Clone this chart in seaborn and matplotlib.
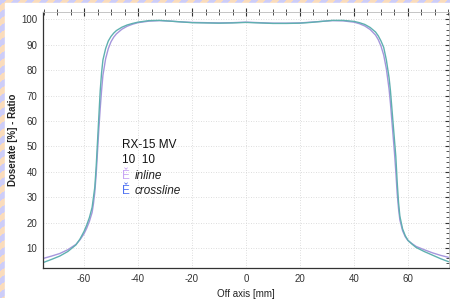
import numpy as np
import pandas as pd
import matplotlib
matplotlib.use("Agg")
import matplotlib.pyplot as plt
import seaborn as sns
from matplotlib.ticker import MultipleLocator

# Off-axis positions [mm]
x_mm = [-75, -72, -69, -66, -63, -61.5, -60, -59, -58, -57, -56.5, -56, -55.5,
        -55, -54.5, -54, -53.5, -53, -52, -51, -50, -49, -48, -46, -44, -42,
        -40, -36, -32, -28, -24, -20, -15, -10, -5, 0, 5, 10, 15, 20, 24, 28,
        32, 36, 40, 42, 44, 46, 48, 49, 50, 51, 52, 53, 53.5, 54, 54.5, 55,
        55.5, 56, 56.5, 57, 58, 59, 60, 61.5, 63, 66, 69, 72, 75]

# Crossline profile (teal)
crossline = [4.3, 5.5, 6.8, 8.6, 11.2, 13.5, 16.5, 19.0, 22.0, 26.0, 30.0, 34.0, 42.0,
             52.0, 62.0, 72.0, 79.0, 84.0, 88.5, 91.5, 93.3, 94.6, 95.6, 96.9, 97.8, 98.4,
             98.9, 99.5, 99.6, 99.3, 99.0, 98.7, 98.6, 98.5, 98.6, 98.8, 98.6, 98.4, 98.4,
             98.5, 98.8, 99.2, 99.6, 99.6, 99.2, 98.7, 98.0, 96.8, 95.0, 93.5, 91.5, 89.0,
             84.0, 77.0, 72.0, 65.5, 59.0, 52.5, 46.0, 36.0, 28.0, 22.5, 17.5, 14.8, 13.0,
             11.5, 10.2, 8.6, 7.2, 5.8, 4.6]

# Inline profile (purple)
inline = [5.9, 6.8, 7.8, 9.3, 11.4, 13.2, 15.6, 17.8, 20.5, 24.0, 27.5, 32.0, 39.0,
          48.0, 57.0, 65.0, 72.0, 78.0, 84.5, 88.5, 91.2, 93.0, 94.3, 96.1, 97.3, 98.1,
          98.7, 99.3, 99.5, 99.3, 99.0, 98.8, 98.7, 98.6, 98.7, 98.9, 98.7, 98.5, 98.5,
          98.6, 98.9, 99.2, 99.5, 99.4, 98.9, 98.3, 97.4, 96.0, 93.8, 92.0, 89.5, 86.0,
          80.5, 72.5, 67.0, 60.5, 54.0, 47.5, 40.0, 31.5, 25.5, 21.0, 16.8, 14.4, 12.9,
          11.7, 10.6, 9.3, 8.1, 7.1, 6.3]

legend_lines = ["RX-15 MV", "10  10"]
series_names = ["inline", "crossline"]
line_colors = {"inline": "#a596dc", "crossline": "#5fb0b0"}
marker_colors = {"inline": "#c8a4f4", "crossline": "#4f72f2"}

df = pd.concat([
    pd.DataFrame({"x": x_mm, "dose": inline, "scan": "inline"}),
    pd.DataFrame({"x": x_mm, "dose": crossline, "scan": "crossline"}),
])

sns.set_style("white")
plt.rcParams["font.family"] = ["Liberation Sans", "DejaVu Sans"]
plt.rcParams["axes.unicode_minus"] = False

fig = plt.figure(figsize=(4.5, 2.99), dpi=100)

# striped frame behind everything
bg = fig.add_axes([0, 0, 1, 1], zorder=-10)
yy, xx = np.mgrid[0:299, 0:450]
stripes = ((xx + yy) // 7) % 2
bg.imshow(stripes, cmap=matplotlib.colors.ListedColormap(["#cdcdf8", "#fadcbc"]),
          aspect="auto", interpolation="nearest")
bg.add_patch(plt.Rectangle((5, 3), 460, 310, color="white", zorder=2))
bg.set_xlim(0, 450)
bg.set_ylim(299, 0)
bg.axis("off")

ax = fig.add_axes([43 / 450, 1 - 268 / 299, 406 / 450, 256 / 299])
ax.patch.set_alpha(0)

sns.lineplot(data=df, x="x", y="dose", hue="scan", palette=line_colors,
             linewidth=1.0, ax=ax, legend=False, sort=False)

ax.set_xlim(-75.2, 75.2)
ax.set_ylim(2.1, 102.9)
ax.xaxis.set_major_locator(MultipleLocator(20))
ax.xaxis.set_minor_locator(MultipleLocator(5))
ax.yaxis.set_major_locator(MultipleLocator(10))
ax.yaxis.set_minor_locator(MultipleLocator(2))
ax.set_yticks([10, 20, 30, 40, 50, 60, 70, 80, 90, 100])
ax.set_xticks([-60, -40, -20, 0, 20, 40, 60])

ax.grid(True, which="major", color="#d2d2d2", linestyle=(0, (1, 2)), linewidth=0.6)
ax.tick_params(axis="both", which="major", direction="inout", length=6, width=0.8,
               labelsize=7, colors="#333333", pad=1)
ax.tick_params(axis="both", which="minor", direction="inout", length=4, width=0.6,
               colors="#333333")
ax.tick_params(top=True, right=True, which="both")
for side in ["top", "right"]:
    ax.spines[side].set_color("#bbbbbb")
    ax.spines[side].set_linewidth(0.6)
for side in ["left", "bottom"]:
    ax.spines[side].set_color("#333333")
    ax.spines[side].set_linewidth(0.9)

ax.set_xlabel("Off axis [mm]", fontsize=7, color="#222222", labelpad=4)
ax.set_ylabel("Doserate [%] - Ratio", fontsize=7, fontweight="bold",
              color="#222222")
ax.yaxis.set_label_coords(-0.062, 0.5)

# legend block
tx = 0.195
ax.text(tx, 0.48, legend_lines[0], transform=ax.transAxes, fontsize=8.5,
        color="#111111", va="center")
ax.text(tx, 0.42, legend_lines[1], transform=ax.transAxes, fontsize=8.5,
        color="#111111", va="center")
for i, name in enumerate(series_names):
    y = 0.36 - i * 0.06
    ax.text(tx, y, "\u011a", transform=ax.transAxes, fontsize=8.5,
            color=marker_colors[name], va="center")
    ax.text(tx + 0.03, y, name, transform=ax.transAxes, fontsize=8.5,
            style="italic", color="#222222", va="center")

fig.savefig("out.png", dpi=100)
